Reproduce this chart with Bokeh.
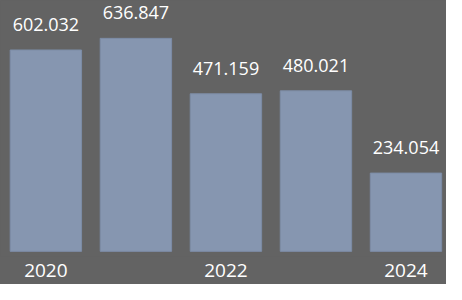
from bokeh.plotting import figure
from bokeh.models import ColumnDataSource, LabelSet, FixedTicker, Range1d
from bokeh.core.properties import value
from bokeh.embed import file_html
from bokeh.resources import INLINE

# data
years = [2020, 2021, 2022, 2023, 2024]
values = [602.032, 636.847, 471.159, 480.021, 234.054]
value_labels = ["602.032", "636.847", "471.159", "480.021", "234.054"]
tick_years = [2020, 2022, 2024]

BG = "#636363"
BAR = "#8696B0"
BAR_EDGE = "#7C8CA6"
FONT = "Open Sans"

W, H = 446, 284
x0 = years[0] - 0.504
x1 = x0 + 4.954
px_per_unit = H * (265 / 300) / 750.0
zero_px = H * 265 / 300
bottom_border = 28
frame_bottom = H - bottom_border
y_start = -(frame_bottom - zero_px) / px_per_unit

src = ColumnDataSource(dict(x=years, top=values, label=value_labels))

p = figure(width=W, height=H, output_backend="svg", toolbar_location=None,
           x_range=Range1d(x0, x1), y_range=Range1d(y_start, 750),
           y_axis_location=None, min_border=0)
p.min_border_bottom = bottom_border
p.background_fill_color = BG
p.border_fill_color = BG
p.outline_line_color = None
p.grid.visible = False
p.styles = {"background-color": BG}

p.vbar(x="x", top="top", bottom=0, width=0.793, source=src,
       fill_color=BAR, line_color=BAR_EDGE, line_width=1)

labels = LabelSet(x="x", y="top", text="label", source=src, y_offset=19,
                  text_align="center", text_baseline="alphabetic",
                  text_color="white", text_font=value(FONT),
                  text_font_size="18px")
p.add_layout(labels)

ax = p.xaxis[0]
ax.ticker = FixedTicker(ticks=tick_years)
ax.axis_line_color = None
ax.major_tick_line_color = None
ax.major_tick_out = 0
ax.major_tick_in = 0
ax.minor_tick_line_color = None
ax.major_label_text_color = "white"
ax.major_label_text_font = FONT
ax.major_label_text_font_size = "19px"
ax.major_label_standoff = 7

open("out.html", "w").write(file_html(p, INLINE))
